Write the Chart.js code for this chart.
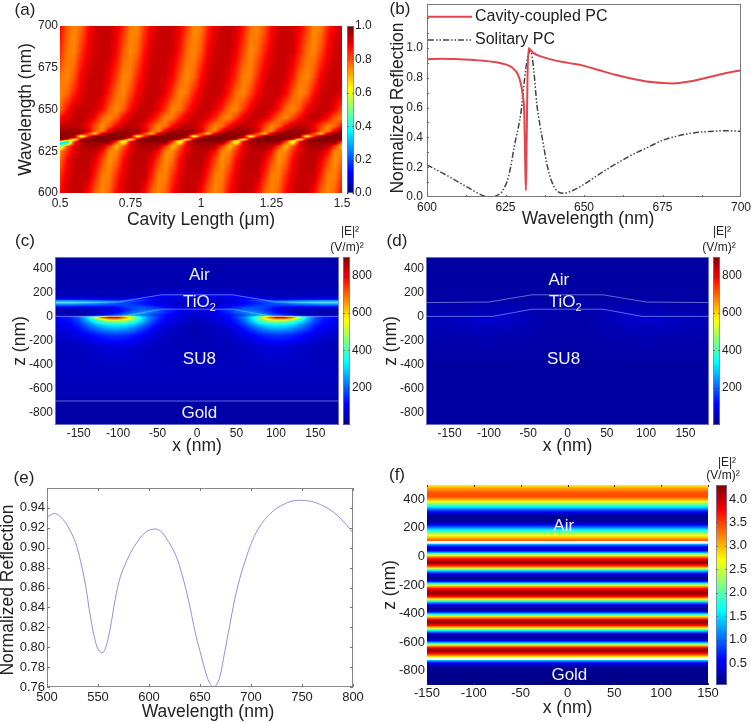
<!DOCTYPE html>
<html>
<head>
<meta charset="utf-8">
<title>Reflection and field maps</title>
<script src="https://cdn.jsdelivr.net/npm/chart.js@4"></script>
<style>
    html, body { margin: 0; padding: 0; background: #fff; }
    #page { position: relative; width: 751px; height: 723px; overflow: hidden; }
    canvas { position: absolute; }
</style>
</head>
<body>
<div id="page"></div>
<script>
// panel (a): reflection map, rows top to bottom, values in percent
const aLengths = [0.5, 0.525, 0.55, 0.575, 0.6, 0.625, 0.65, 0.675, 0.7, 0.725, 0.75, 0.775, 0.8, 0.825, 0.85, 0.875, 0.9, 0.925, 0.95, 0.975, 1, 1.025, 1.05, 1.075, 1.1, 1.125, 1.15, 1.175, 1.2, 1.225, 1.25, 1.275, 1.3, 1.325, 1.35, 1.375, 1.4, 1.425, 1.45, 1.475, 1.5];
const aWavelengths = [700, 685, 670, 660, 650, 645, 640, 637, 635.5, 634, 633, 632, 631, 630, 628, 625, 620, 610, 600];
const aCells = [
    [88,79,74,77,86,92,93,93,90,84,75,74,82,89,92,93,92,89,82,74,75,84,90,93,93,92,86,77,74,79,87,92,93,92,89,82,74,75,84,90,93],
    [84,76,74,82,89,92,93,93,88,79,74,77,86,92,93,93,92,86,77,74,79,88,92,93,93,89,81,74,77,84,90,93,93,92,85,77,74,80,88,92,93],
    [77,74,79,88,92,93,93,89,82,74,76,84,90,93,93,92,88,79,74,77,86,92,93,93,90,83,75,75,83,90,93,93,92,86,77,74,79,88,92,93,92],
    [74,77,84,90,93,93,92,85,77,74,80,88,92,93,93,89,82,74,76,84,90,93,93,92,85,77,74,80,88,92,93,93,88,79,74,77,86,92,93,93,90],
    [77,86,92,93,93,92,87,78,74,78,87,92,93,93,89,82,74,76,84,90,93,93,90,84,76,74,82,89,93,93,92,86,77,74,79,88,92,93,93,88,80],
    [87,90,93,94,92,87,78,74,78,87,92,94,93,89,82,74,76,84,90,93,93,90,84,76,74,82,89,93,93,92,85,77,74,80,88,92,94,92,87,78,74],
    [93,94,94,93,88,80,73,79,88,93,94,93,89,81,74,77,87,93,94,93,89,81,74,77,87,93,94,93,89,81,74,77,87,93,94,93,89,81,74,77,87],
    [97,97,97,96,92,78,74,90,96,97,97,96,92,78,74,90,96,97,97,96,92,78,74,90,96,97,97,96,92,78,74,90,96,97,97,96,92,78,74,90,96],
    [98,98,98,95,80,66,92,98,98,98,98,95,80,66,92,98,98,98,98,95,80,66,92,98,98,98,98,95,80,66,92,98,98,98,98,95,80,66,92,98,98],
    [99,99,97,52,82,98,99,99,99,99,97,55,82,98,99,99,99,99,97,55,82,98,99,99,99,99,97,55,82,98,99,99,99,99,97,55,82,98,99,99,99],
    [100,100,90,75,97,100,100,100,100,100,90,78,97,100,100,100,100,100,90,78,97,100,100,100,100,100,90,78,97,100,100,100,100,100,90,78,97,100,100,100,100],
    [99,88,50,97,100,100,100,100,99,88,52,97,100,100,100,100,99,88,52,97,100,100,100,100,99,88,52,97,100,100,100,100,99,88,52,97,100,100,100,100,99],
    [75,35,80,97,99,99,99,99,85,50,88,97,99,99,99,99,85,50,88,97,99,99,99,99,85,50,88,97,99,99,99,99,85,50,88,97,99,99,99,99,85],
    [30,35,85,96,97,97,97,97,78,62,90,96,97,97,97,97,78,62,90,96,97,97,97,97,78,62,90,96,97,97,97,97,78,62,90,96,97,97,97,97,78],
    [50,79,90,94,96,96,94,82,68,79,90,94,96,96,94,82,68,79,90,94,96,96,94,82,68,79,90,94,96,96,94,82,68,79,90,94,96,96,94,82,68],
    [74,83,90,94,94,93,87,74,74,83,90,94,94,93,87,74,74,83,90,94,94,93,87,74,74,83,90,94,94,93,87,74,74,83,90,94,94,93,87,74,74],
    [77,87,93,94,94,90,81,73,77,87,93,94,94,90,81,73,77,87,93,94,94,90,81,73,77,87,93,94,94,90,81,73,77,87,93,94,94,90,81,73,77],
    [83,90,93,93,93,84,75,75,83,90,93,93,93,84,75,75,83,90,93,93,93,84,75,75,83,90,93,93,93,84,75,75,83,90,93,93,93,84,75,75,83],
    [87,92,93,93,87,78,74,78,87,92,93,93,87,78,74,78,87,92,93,93,87,78,74,78,87,92,93,93,87,78,74,78,87,92,93,93,87,78,74,78,87]
];
const aXTicks = [0.5, 0.75, 1, 1.25, 1.5];
const aYTicks = [600, 625, 650, 675, 700];
const aBarTicks = [0, 0.2, 0.4, 0.6, 0.8, 1];

// panel (b)
const bCavityX = [600, 605, 610, 615, 620, 625, 627, 629, 630, 630.5, 631, 631.3, 631.5, 631.7, 632, 632.4, 633, 634, 636, 640, 645, 650, 655, 660, 665, 670, 675, 678, 682, 685, 690, 695, 700];
const bCavityY = [0.925, 0.928, 0.925, 0.92, 0.91, 0.89, 0.87, 0.82, 0.75, 0.68, 0.55, 0.2, 0.045, 0.3, 0.8, 1, 0.985, 0.965, 0.945, 0.92, 0.9, 0.88, 0.85, 0.82, 0.795, 0.775, 0.765, 0.762, 0.77, 0.78, 0.805, 0.83, 0.85];
const bSolitaryX = [600, 605, 610, 615, 618, 620, 622, 624, 626, 628, 630, 631, 632, 633, 634, 635, 636, 637, 638, 639, 640, 641, 643.5, 646, 650, 655, 660, 665, 670, 675, 680, 685, 690, 695, 700];
const bSolitaryY = [0.215, 0.16, 0.1, 0.04, 0.008, 0, 0.008, 0.04, 0.14, 0.36, 0.58, 0.78, 0.93, 0.985, 0.85, 0.62, 0.48, 0.36, 0.24, 0.15, 0.09, 0.05, 0.025, 0.04, 0.085, 0.155, 0.22, 0.28, 0.33, 0.38, 0.41, 0.43, 0.44, 0.445, 0.44];
const bXTicks = [600, 625, 650, 675, 700];
const bYTicks = [0, 0.2, 0.4, 0.6, 0.8, 1];
const bMinorX = [612.5, 625, 637.5, 650, 662.5, 675, 687.5];
const bMinorY = [0.1, 0.2, 0.3, 0.4, 0.5, 0.6, 0.7, 0.8, 0.9, 1, 1.1, 1.2];

// panels (c), (d): |E|^2 for x >= 0, the cell is mirror symmetric
const cX = [0, 20, 40, 50, 60, 70, 80, 90, 100, 110, 120, 130, 140, 150, 160, 180];
const cZ = [500, 250, 210, 195, 180, 165, 150, 135, 125, 115, 100, 80, 60, 40, 25, 12, 5, -5, -15, -30, -50, -70, -100, -150, -250, -450, -690, -710, -900];
const cCells = [
    [40,40,40,40,40,40,40,40,40,40,40,40,40,40,40,40],
    [45,45,45,45,45,45,45,45,45,45,45,45,45,45,45,45],
    [65,65,65,60,55,52,50,50,50,50,50,50,50,50,50,50],
    [90,90,85,70,60,55,50,50,50,50,50,50,50,50,50,50],
    [100,100,95,85,70,60,55,55,55,55,55,55,55,55,55,55],
    [85,85,95,100,100,90,70,60,60,60,60,60,60,60,60,60],
    [70,75,85,100,125,135,120,95,85,85,85,90,95,95,100,100],
    [70,70,80,95,120,160,180,185,190,200,215,230,245,250,260,260],
    [65,70,80,90,110,130,160,185,215,250,280,300,310,320,330,330],
    [60,65,80,90,110,125,145,165,190,215,245,270,285,300,310,310],
    [60,70,90,110,130,150,165,170,165,170,180,185,190,200,210,210],
    [70,85,120,150,170,180,175,160,130,110,100,95,90,90,90,90],
    [80,110,160,190,205,200,180,140,100,75,55,50,50,45,45,45],
    [80,90,150,190,220,235,210,165,120,85,60,45,40,40,35,35],
    [70,90,130,165,205,240,240,200,150,115,85,60,50,45,40,40],
    [65,85,115,150,190,240,290,280,240,200,165,130,105,95,90,85],
    [65,85,115,160,210,290,420,570,630,630,510,350,220,150,120,100],
    [60,80,110,170,230,330,480,660,800,820,720,520,310,200,150,110],
    [60,75,110,150,215,320,470,590,680,680,590,430,280,180,135,110],
    [55,70,105,140,205,300,410,480,510,500,450,360,255,170,125,105],
    [50,65,95,130,185,260,340,390,405,400,365,300,225,155,120,95],
    [48,60,85,110,155,215,275,310,325,320,295,245,190,140,105,85],
    [45,55,70,95,125,170,215,245,260,255,235,200,160,120,95,80],
    [45,50,60,72,90,110,135,150,160,155,145,125,105,90,75,65],
    [50,50,52,55,60,65,72,78,80,78,72,66,60,56,54,50],
    [55,55,55,55,55,55,55,55,55,55,55,55,55,55,55,55],
    [45,45,45,45,45,45,45,45,45,45,45,45,45,45,45,45],
    [35,35,35,35,35,35,35,35,35,35,35,35,35,35,35,35],
    [35,35,35,35,35,35,35,35,35,35,35,35,35,35,35,35]
];
const dX = [0, 40, 60, 80, 100, 120, 140, 180];
const dZ = [500, 150, 100, 40, 0, -30, -100, -200, -400, -900];
const dCells = [
    [28,28,28,28,28,28,28,28],
    [32,32,32,32,32,32,32,32],
    [38,38,40,42,42,42,42,42],
    [38,42,50,55,48,42,42,42],
    [35,45,58,68,75,70,60,50],
    [35,42,55,65,68,65,58,48],
    [35,40,45,50,52,50,47,45],
    [32,36,38,40,42,42,40,38],
    [30,30,30,30,30,30,30,30],
    [28,28,28,28,28,28,28,28]
];
const tioTopX = [-180, -100, -45, 45, 100, 180];
const tioTopZ = [120, 125, 185, 185, 125, 120];
const tioBottomX = [-180, -95, -45, 45, 95, 180];
const tioBottomZ = [5, 5, 65, 65, 5, 5];
const goldFaceX = [-180, 180];
const goldFaceZ = [-700, -700];
const fieldXTicks = [-150, -100, -50, 0, 50, 100, 150];
const fieldZTicks = [-800, -600, -400, -200, 0, 200, 400];
const fieldBarTicks = [200, 400, 600, 800];

// panel (e)
const eWavelength = [500, 508, 516, 523, 528, 533, 538, 542.5, 547.4, 550.7, 554, 557, 562, 567, 572, 577, 582, 588, 595, 603, 611, 619, 626, 632.4, 639, 645.5, 650, 656.3, 659.6, 662.9, 666, 669.4, 674, 679, 684, 689, 694, 699, 704, 709, 715, 723, 731, 741, 751, 761, 770.8, 780.6, 790.4, 800];
const eReflection = [0.931, 0.9343, 0.928, 0.9165, 0.905, 0.886, 0.861, 0.831, 0.806, 0.797, 0.7946, 0.798, 0.819, 0.849, 0.871, 0.884, 0.895, 0.905, 0.914, 0.9185, 0.917, 0.906, 0.893, 0.873, 0.846, 0.814, 0.796, 0.772, 0.764, 0.76, 0.762, 0.77, 0.794, 0.821, 0.848, 0.869, 0.886, 0.901, 0.913, 0.922, 0.93, 0.938, 0.943, 0.947, 0.9475, 0.946, 0.942, 0.936, 0.9265, 0.915];
const eXTicks = [500, 550, 600, 650, 700, 750, 800];
const eYTicks = [0.76, 0.78, 0.8, 0.82, 0.84, 0.86, 0.88, 0.9, 0.92, 0.94];

// panel (f): standing wave, the same in every column
const fX = [-150, 150];
const fZ = [500, 477, 442, 418, 395, 372, 348, 325, 302, 279, 255, 232, 209, 185, 162, 139, 116, 104, 96, 85, 69, 45, 29, 10, -12, -43, -71, -87, -106, -129, -152, -171, -187, -204, -227, -257, -281, -304, -320, -344, -367, -385, -404, -420, -444, -460, -483, -507, -525, -549, -572, -590, -607, -623, -642, -660, -684, -700, -716, -735, -749, -781, -900];
const fField = [2.7, 3.1, 3.45, 3.45, 3, 2.3, 1.6, 0.9, 0.35, 0.12, 0.1, 0.3, 0.9, 1.6, 2.3, 2.85, 3.3, 3.5, 2, 1.3, 0.6, 0.25, 1.2, 2.6, 3.6, 4.25, 3.4, 2.3, 1.1, 0.3, 0.1, 0.4, 1.5, 2.8, 3.8, 4.25, 3.7, 2.4, 1.3, 0.3, 0.1, 0.4, 1.6, 2.8, 3.9, 4.25, 3.7, 2.4, 1.2, 0.2, 0.15, 0.5, 1.6, 2.9, 3.9, 4.25, 3.6, 2.9, 2, 1, 0.4, 0.12, 0.05];
const fFaces = [100, -716];
const fZTicks = [-800, -600, -400, -200, 0, 200, 400];
const fBarTicks = [0.5, 1, 1.5, 2, 2.5, 3, 3.5, 4];

const FONT = 'Arial, "Liberation Sans", sans-serif';
const INK = '#222';
const PALE = 'rgba(170,190,255,0.55)';

function jet(v) {
    const ramp = (a) => Math.max(0, Math.min(1, a)) * 255;
    return [
        ramp(Math.min(4 * v - 1.5, 4.5 - 4 * v)),
        ramp(Math.min(4 * v - 0.5, 3.5 - 4 * v)),
        ramp(Math.min(4 * v + 0.5, 2.5 - 4 * v))
    ];
}

// index and fraction of a value inside a sorted axis of the grid
function locate(axis, value) {
    const up = axis[1] > axis[0];
    let i = 0;
    while (i < axis.length - 2 && (up ? value > axis[i + 1] : value < axis[i + 1])) i++;
    const t = (value - axis[i]) / (axis[i + 1] - axis[i]);
    return [i, Math.max(0, Math.min(1, t))];
}

function paintPixels(chart, left, top, width, height, colourAt) {
    const image = chart.ctx.createImageData(width, height);
    for (let py = 0; py < height; py++) {
        for (let px = 0; px < width; px++) {
            const rgb = colourAt(left + px + 0.5, top + py + 0.5);
            const k = (py * width + px) * 4;
            image.data[k] = rgb[0];
            image.data[k + 1] = rgb[1];
            image.data[k + 2] = rgb[2];
            image.data[k + 3] = 255;
        }
    }
    chart.ctx.putImageData(image, left, top);
}

const heatPlugin = {
    id: 'heat',
    beforeDatasetsDraw(chart, args, o) {
        if (!o.cells) return;
        const a = chart.chartArea;
        const xs = chart.scales.x, ys = chart.scales.y;
        paintPixels(chart, a.left, a.top, a.right - a.left, a.bottom - a.top, (px, py) => {
            let x = xs.getValueForPixel(px);
            if (o.mirror) x = Math.abs(x);
            const [i, u] = locate(o.xs, x);
            const [j, w] = locate(o.zs, ys.getValueForPixel(py));
            const top = o.cells[j][i] * (1 - u) + o.cells[j][i + 1] * u;
            const low = o.cells[j + 1][i] * (1 - u) + o.cells[j + 1][i + 1] * u;
            return jet(((top * (1 - w) + low * w) * o.unit - o.low) / (o.high - o.low));
        });
    },
    afterDraw(chart, args, o) {
        if (!chart.scales.bar) return;
        const a = chart.chartArea, bar = chart.scales.bar;
        const left = a.right + o.barGap;
        paintPixels(chart, left, a.top, o.barWidth, a.bottom - a.top, (px, py) => {
            return jet((bar.getValueForPixel(py) - bar.min) / (bar.max - bar.min));
        });
        const ctx = chart.ctx;
        ctx.save();
        ctx.strokeStyle = '#333';
        ctx.lineWidth = 1;
        ctx.beginPath();
        bar.ticks.forEach((t) => {
            const y = Math.round(bar.getPixelForValue(t.value)) + 0.5;
            ctx.moveTo(left, y);
            ctx.lineTo(left + 1.5, y);
            ctx.moveTo(left + o.barWidth - 1.5, y);
            ctx.lineTo(left + o.barWidth, y);
        });
        ctx.stroke();
        ctx.strokeStyle = o.frameColor || 'rgba(120,130,170,0.7)';
        ctx.strokeRect(left + 0.5, a.top + 0.5, o.barWidth - 1, a.bottom - a.top - 1);
        ctx.restore();
    }
};

const notesPlugin = {
    id: 'notes',
    afterDraw(chart, args, o) {
        const ctx = chart.ctx, a = chart.chartArea;
        ctx.save();
        // frame and inward ticks
        if (o.frame) {
            ctx.strokeStyle = o.frame;
            ctx.lineWidth = 1;
            ctx.strokeRect(a.left + 0.5, a.top + 0.5, a.right - a.left - 1, a.bottom - a.top - 1);
        }
        if (o.marks) {
            ctx.strokeStyle = o.marks.color;
            ctx.lineWidth = 1;
            ctx.beginPath();
            (o.marks.x || []).forEach((v) => {
                const x = Math.round(chart.scales.x.getPixelForValue(v)) + 0.5;
                ctx.moveTo(x, a.bottom);
                ctx.lineTo(x, a.bottom - o.marks.len);
                if (o.marks.mirror) {
                    ctx.moveTo(x, a.top);
                    ctx.lineTo(x, a.top + o.marks.len);
                }
            });
            (o.marks.y || []).forEach((v) => {
                const y = Math.round(chart.scales.y.getPixelForValue(v)) + 0.5;
                ctx.moveTo(a.left, y);
                ctx.lineTo(a.left + o.marks.len, y);
                if (o.marks.mirror) {
                    ctx.moveTo(a.right, y);
                    ctx.lineTo(a.right - o.marks.len, y);
                }
            });
            ctx.stroke();
        }
        // legend rows taken from the datasets
        if (o.legend) {
            o.legend.rows.forEach((y, i) => {
                const ds = chart.data.datasets[i];
                ctx.strokeStyle = ds.borderColor;
                ctx.lineWidth = ds.borderWidth;
                ctx.setLineDash(ds.borderDash || []);
                ctx.beginPath();
                ctx.moveTo(o.legend.from, y);
                ctx.lineTo(o.legend.to, y);
                ctx.stroke();
                ctx.setLineDash([]);
                ctx.fillStyle = INK;
                ctx.font = '16px ' + FONT;
                ctx.textAlign = 'left';
                ctx.textBaseline = 'middle';
                ctx.fillText(ds.label, o.legend.to + 3, y);
            });
        }
        (o.texts || []).forEach((n) => {
            let x = n.x, y = n.y;
            if (n.data) {
                x = chart.scales.x.getPixelForValue(n.x);
                y = chart.scales.y.getPixelForValue(n.y);
            }
            ctx.save();
            ctx.translate(x, y);
            if (n.rotate) ctx.rotate(n.rotate);
            ctx.fillStyle = n.color || INK;
            const size = n.size || 17;
            ctx.font = size + 'px ' + FONT;
            ctx.textBaseline = 'middle';
            const w = ctx.measureText(n.text).width;
            ctx.font = Math.round(size * 0.62) + 'px ' + FONT;
            const w2 = n.sub ? ctx.measureText(n.sub).width : 0;
            ctx.font = size + 'px ' + FONT;
            ctx.textAlign = 'left';
            ctx.fillText(n.text, -(w + w2) / 2, 0);
            if (n.sub) {
                ctx.font = Math.round(size * 0.62) + 'px ' + FONT;
                ctx.fillText(n.sub, -(w + w2) / 2 + w, size * 0.38);
            }
            ctx.restore();
        });
        ctx.restore();
    }
};

Chart.register(heatPlugin, notesPlugin);

function points(xs, ys) {
    return xs.map((x, i) => ({ x: x, y: ys[i] }));
}

function fixedAxis(size, min, max, tickList, format, padding, fontSize, title, extra) {
    return Object.assign({
        min: min,
        max: max,
        grid: { display: false, drawTicks: false },
        border: { display: false },
        afterBuildTicks: (s) => { s.ticks = tickList.map((v) => ({ value: v })); },
        afterFit: (s) => {
            if (s.isHorizontal()) s.height = size; else s.width = size;
            s.paddingLeft = s.paddingRight = s.paddingTop = s.paddingBottom = 0;
        },
        ticks: {
            autoSkip: false,
            maxRotation: 0,
            padding: padding,
            color: INK,
            font: { family: FONT, size: fontSize },
            callback: format
        },
        title: title ? {
            display: true,
            text: title.text,
            color: INK,
            font: { family: FONT, size: title.size || 17.5, lineHeight: 1.2 },
            padding: title.padding
        } : { display: false }
    }, extra || {});
}

function panel(box, area, datasets, scales, plugins) {
    const canvas = document.createElement('canvas');
    canvas.width = box.w;
    canvas.height = box.h;
    canvas.style.left = box.x + 'px';
    canvas.style.top = box.y + 'px';
    document.getElementById('page').appendChild(canvas);
    new Chart(canvas.getContext('2d'), {
        type: 'scatter',
        data: { datasets: datasets },
        options: {
            responsive: false,
            animation: false,
            layout: { padding: { top: area.top, right: scales.bar ? 0 : box.w - area.right, left: 0, bottom: 0 } },
            scales: scales,
            plugins: Object.assign({ legend: { display: false }, tooltip: { enabled: false } }, plugins)
        }
    });
}

function curve(label, xs, ys, color, width, dash) {
    return {
        label: label,
        data: points(xs, ys),
        showLine: true,
        pointRadius: 0,
        borderColor: color,
        borderWidth: width,
        borderDash: dash || [],
        cubicInterpolationMode: 'monotone'
    };
}

function face(xs, zs, color, width) {
    return { data: points(xs, zs), showLine: true, pointRadius: 0, borderColor: color, borderWidth: width };
}

const plain = (v) => String(v);
const oneDigit = (v) => v.toFixed(1);
const twoDigit = (v) => v.toFixed(2);

// (a)
panel({ x: 0, y: 0, w: 375, h: 240 }, { top: 26, right: 342 }, [], {
    x: fixedAxis(47, 0.5, 1.5, aXTicks, plain, 3, 12, { text: 'Cavity Length (\u03bcm)', padding: { bottom: 9.5 } }),
    y: fixedAxis(60, 600, 700, aYTicks, plain, 2, 12, { text: 'Wavelength (nm)', padding: { top: 16 } }),
    bar: fixedAxis(33, 0, 1, aBarTicks, oneDigit, 13, 12, null, { position: 'right' })
}, {
    heat: { cells: aCells, xs: aLengths, zs: aWavelengths, unit: 0.01, low: 0, high: 1, barGap: 5, barWidth: 7 },
    notes: { texts: [{ text: '(a)', x: 25, y: 10 }] }
});

// (b)
panel({ x: 375, y: 0, w: 376, h: 240 }, { top: 4, right: 366 }, [
    curve('Cavity-coupled PC', bCavityX, bCavityY, '#e2454c', 2),
    curve('Solitary PC', bSolitaryX, bSolitaryY, '#444', 1.5, [6, 2, 1.5, 2, 1.5, 2])
], {
    x: fixedAxis(43, 600, 700, bXTicks, plain, 3, 12),
    y: fixedAxis(52, 0, 1.295, bYTicks, oneDigit, 4, 12)
}, {
    heat: {},
    notes: {
        frame: '#777',
        marks: { x: bMinorX, y: bMinorY, len: 2, color: '#666' },
        legend: { from: 53, to: 97, rows: [16.7, 40] },
        texts: [
            { text: '(b)', x: 25, y: 9 },
            { text: 'Normalized Reflection', x: 23, y: 108, rotate: -Math.PI / 2, size: 17.5 },
            { text: 'Wavelength (nm)', x: 213, y: 219, size: 17.5 }
        ]
    }
});

// (c)
panel({ x: 0, y: 225, w: 375, h: 235 }, { top: 32, right: 339 }, [
    face(tioTopX, tioTopZ, PALE, 1),
    face(tioBottomX, tioBottomZ, PALE, 1),
    face(goldFaceX, goldFaceZ, PALE, 1)
], {
    x: fixedAxis(35, -180, 180, fieldXTicks, plain, 1, 12, { text: 'x (nm)', padding: { bottom: 3.7 } }),
    y: fixedAxis(55, -900, 500, fieldZTicks, plain, 2, 12, { text: 'z (nm)', padding: { top: 10 } }),
    bar: fixedAxis(36, 0, 900, fieldBarTicks, plain, 13, 12, null, { position: 'right' })
}, {
    heat: { cells: cCells, xs: cX, zs: cZ, mirror: true, unit: 1, low: 0, high: 900, barGap: 4, barWidth: 7 },
    notes: {
        frame: 'rgba(130,140,200,0.8)',
        texts: [
            { text: '(c)', x: 25, y: 16 },
            { text: '|E|\u00b2', x: 350, y: 7, size: 12 },
            { text: '(V/m)\u00b2', x: 347, y: 23, size: 12 },
            { text: 'Air', data: true, x: 3, y: 347, color: '#eef2fb' },
            { text: 'TiO', sub: '2', data: true, x: 3, y: 125, color: '#eef2fb' },
            { text: 'SU8', data: true, x: 3, y: -352, color: '#eef2fb' },
            { text: 'Gold', data: true, x: 3, y: -803, color: '#eef2fb' }
        ]
    }
});

// (d)
panel({ x: 375, y: 225, w: 376, h: 235 }, { top: 32, right: 334 }, [
    face(tioTopX, tioTopZ, PALE, 1),
    face(tioBottomX, tioBottomZ, PALE, 1)
], {
    x: fixedAxis(35, -180, 180, fieldXTicks, plain, 1, 12, { text: 'x (nm)', padding: { bottom: 3.7 } }),
    y: fixedAxis(51, -900, 500, fieldZTicks, plain, 2, 12, { text: 'z (nm)', padding: { top: 6 } }),
    bar: fixedAxis(42, 0, 900, fieldBarTicks, plain, 13, 12, null, { position: 'right' })
}, {
    heat: { cells: dCells, xs: dX, zs: dZ, mirror: true, unit: 1, low: 0, high: 900, barGap: 4, barWidth: 7 },
    notes: {
        frame: 'rgba(130,140,200,0.8)',
        texts: [
            { text: '(d)', x: 22, y: 16 },
            { text: '|E|\u00b2', x: 347, y: 7, size: 12 },
            { text: '(V/m)\u00b2', x: 344, y: 23, size: 12 },
            { text: 'Air', data: true, x: -11, y: 305, color: '#eef2fb' },
            { text: 'TiO', sub: '2', data: true, x: -3, y: 125, color: '#eef2fb' },
            { text: 'SU8', data: true, x: -5, y: -352, color: '#eef2fb' }
        ]
    }
});

// (e)
panel({ x: 0, y: 470, w: 375, h: 253 }, { top: 18, right: 353 }, [
    Object.assign(curve('Reflection', eWavelength, eReflection, '#8f8fdc', 1), { cubicInterpolationMode: 'default', tension: 0.4 })
], {
    x: fixedAxis(36, 500, 800, eXTicks, plain, 3, 13),
    y: fixedAxis(47, 0.76, 0.96, eYTicks, twoDigit, 2, 13)
}, {
    heat: {},
    notes: {
        frame: '#888',
        marks: { x: eXTicks, y: eYTicks, len: 3, color: '#777', mirror: true },
        texts: [
            { text: '(e)', x: 24, y: 8 },
            { text: 'Normalized Reflection', x: 8.5, y: 120, rotate: -Math.PI / 2, size: 17.5 },
            { text: 'Wavelength (nm)', x: 208, y: 242, size: 17.5 }
        ]
    }
});

// (f)
panel({ x: 375, y: 455, w: 376, h: 268 }, { top: 30, right: 333 }, [
    face(fX, [fFaces[0], fFaces[0]], '#fff', 2.5),
    face(fX, [fFaces[1], fFaces[1]], '#fff', 2.5)
], {
    x: fixedAxis(38, -150, 150, fieldXTicks, plain, 1, 13, { text: 'x (nm)', padding: { bottom: 4.7 } }),
    y: fixedAxis(52, -900, 500, fZTicks, plain, 2, 13, { text: 'z (nm)', padding: { top: 5 } }),
    bar: fixedAxis(43, 0.03, 4.3, fBarTicks, oneDigit, 21, 13, null, { position: 'right' })
}, {
    heat: { cells: fZ.map((z, j) => [fField[j], fField[j]]), xs: fX, zs: fZ, unit: 1, low: 0.03, high: 4.3, barGap: 8, barWidth: 11 },
    notes: {
        marks: { x: fieldXTicks, len: 2, color: '#333', mirror: true },
        texts: [
            { text: '(f)', x: 22, y: 20 },
            { text: '|E|\u00b2', x: 352, y: 8, size: 12 },
            { text: '(V/m)\u00b2', x: 348, y: 21, size: 12 },
            { text: 'Air', data: true, x: -4, y: 213, color: '#eef2fb' },
            { text: 'Gold', data: true, x: 2, y: -835, color: '#eef2fb' }
        ]
    }
});
</script>
</body>
</html>
